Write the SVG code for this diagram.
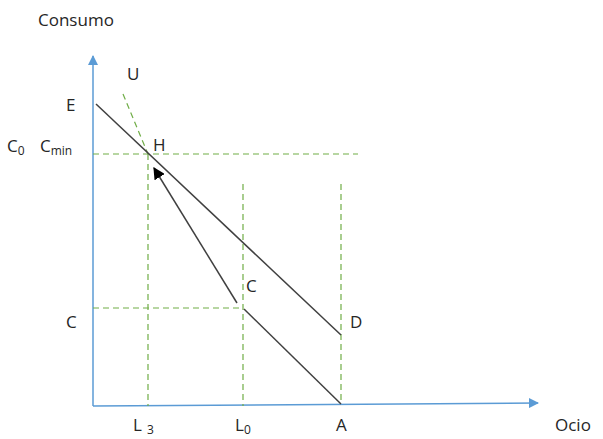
<svg xmlns="http://www.w3.org/2000/svg" width="603" height="439" viewBox="0 0 603 439">
<style>
.axis{stroke:#5b9bd5;stroke-width:1.5;fill:none}
.line{stroke:#404040;stroke-width:1.5;fill:none}
.dash{stroke:#70ad47;stroke-width:1.2;stroke-dasharray:6,4;fill:none}
.t{font-family:"Open Sans","Liberation Sans",sans-serif;font-size:17px;fill:#262626}
.s{font-size:12px}
</style>
<defs>
<marker id="ab" viewBox="0 0 10 10" refX="9" refY="5" markerWidth="10" markerHeight="10" markerUnits="userSpaceOnUse" orient="auto"><path d="M0,0 L10,5 L0,10 z" fill="#5b9bd5"/></marker>
<marker id="ak" viewBox="0 0 10 10" refX="9" refY="5" markerWidth="12" markerHeight="12" markerUnits="userSpaceOnUse" orient="auto"><path d="M0,0 L10,5 L0,10 z" fill="#000"/></marker>
</defs>
<g id="connectors">
<line class="axis" x1="93" y1="406" x2="93" y2="56" marker-end="url(#ab)"/>
<line class="axis" x1="93" y1="406" x2="538" y2="403" marker-end="url(#ab)"/>
<line class="dash" x1="93" y1="154" x2="358" y2="154"/>
<line class="dash" x1="93" y1="308" x2="243" y2="308"/>
<line class="dash" x1="148" y1="154" x2="148" y2="406"/>
<line class="dash" x1="243" y1="184" x2="243" y2="406"/>
<line class="dash" x1="341" y1="184" x2="341" y2="404"/>
<line class="dash" x1="123" y1="94" x2="148" y2="154"/>
<line class="line" x1="96" y1="104" x2="341" y2="335"/>
<line class="line" x1="244" y1="309" x2="341" y2="404"/>
<line class="line" x1="237" y1="303" x2="154" y2="168" marker-end="url(#ak)"/>
</g>
<g id="labels">
<text class="t" x="38" y="26">Consumo</text>
<text class="t" x="127" y="80">U</text>
<text class="t" x="66" y="111">E</text>
<text class="t" x="7" y="152">C<tspan class="s" dy="3">0</tspan></text>
<text class="t" x="40" y="152">C<tspan class="s" dy="3">min</tspan></text>
<text class="t" x="153" y="151">H</text>
<text class="t" x="246" y="292">C</text>
<text class="t" x="66" y="328">C</text>
<text class="t" x="350" y="328">D</text>
<text class="t" x="133" y="431">L<tspan class="s" dx="5" dy="3">3</tspan></text>
<text class="t" x="235" y="431">L<tspan class="s" dy="3">0</tspan></text>
<text class="t" x="336" y="431">A</text>
<text class="t" x="555" y="431">Ocio</text>
</g>
</svg>
